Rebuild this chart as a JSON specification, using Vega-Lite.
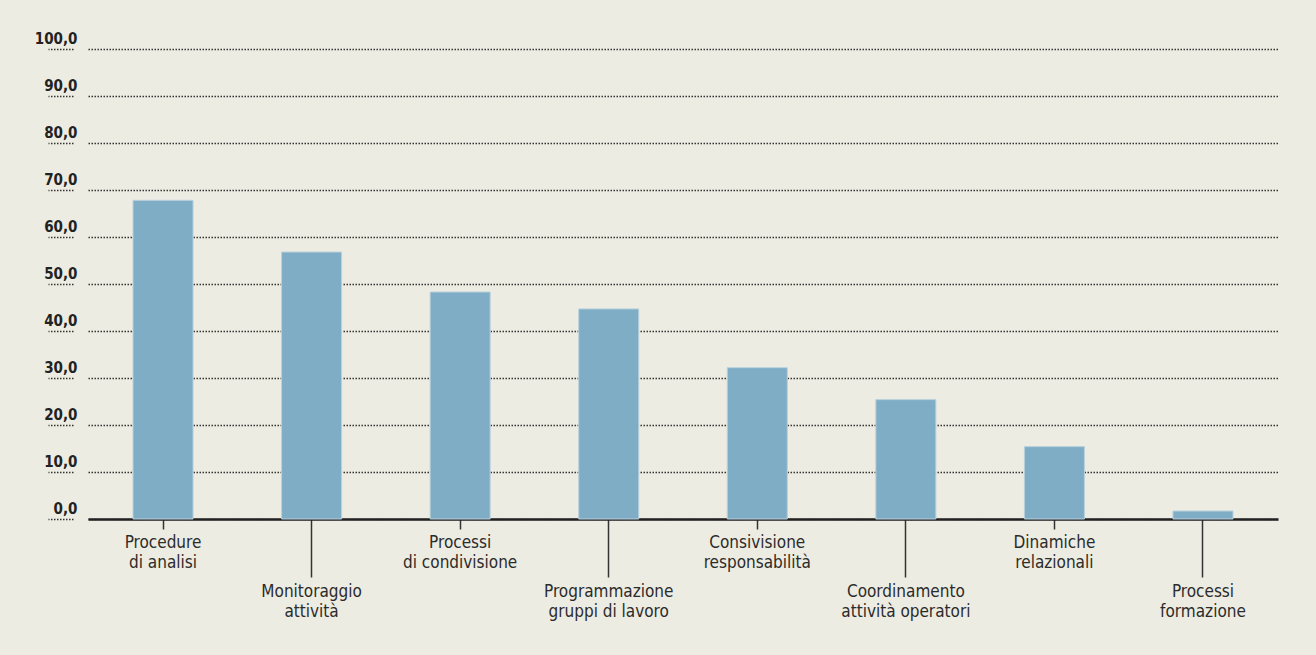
{
  "$schema": "https://vega.github.io/schema/vega-lite/v6.json",
  "autosize": "none",
  "padding": {"left": 88, "top": 49, "right": 38, "bottom": 136},
  "width": 1190,
  "height": 470,
  "background": "#EDECE2",
  "config": {
    "view": {"stroke": null},
    "font": "DejaVu Sans Condensed, Liberation Sans Narrow, Liberation Sans, sans-serif"
  },
  "data": {
    "values": [
      {"voce": "Procedure\ndi analisi", "valore": 67.8},
      {"voce": "Monitoraggio\nattività", "valore": 56.8},
      {"voce": "Processi\ndi condivisione", "valore": 48.3},
      {"voce": "Programmazione\ngruppi di lavoro", "valore": 44.7},
      {"voce": "Consivisione\nresponsabilità", "valore": 32.2},
      {"voce": "Coordinamento\nattività operatori", "valore": 25.4},
      {"voce": "Dinamiche\nrelazionali", "valore": 15.4},
      {"voce": "Processi\nformazione", "valore": 1.7}
    ]
  },
  "mark": {"type": "bar", "color": "#7FADC6", "stroke": "#B9D1DD", "strokeWidth": 1},
  "encoding": {
    "x": {
      "field": "voce",
      "type": "nominal",
      "sort": null,
      "title": null,
      "scale": {"paddingInner": 0.596, "paddingOuter": 0.303},
      "axis": {
        "labelAngle": 0,
        "labelExpr": "split(datum.label, '\\n')",
        "labelFontSize": 17,
        "labelColor": "#2B2B2B",
        "labelLineHeight": 20,
        "labelBaseline": "top",
        "labelAlign": "center",
        "labelLimit": 0,
        "labelOverlap": false,
        "domainColor": "#222222",
        "domainWidth": 2.5,
        "tickColor": "#333333",
        "tickWidth": 1.5,
        "tickSize": {"condition": {"test": "round(datum.index * 7) % 2 == 1", "value": 58}, "value": 10},
        "labelPadding": {"condition": {"test": "round(datum.index * 7) % 2 == 1", "value": 6}, "value": 5}
      }
    },
    "y": {
      "field": "valore",
      "type": "quantitative",
      "title": null,
      "scale": {"domain": [0, 100], "nice": false},
      "axis": {
        "values": [0, 10, 20, 30, 40, 50, 60, 70, 80, 90, 100],
        "labelExpr": "replace(format(datum.value, '.1f'), '.', ',')",
        "domain": false,
        "offset": 15,
        "tickSize": 25,
        "tickColor": "#333333",
        "tickWidth": 1.5,
        "tickDash": [1.5, 1.5],
        "labelPadding": -29,
        "labelAlign": "right",
        "labelBaseline": "alphabetic",
        "labelOffset": -6,
        "labelFontSize": 15,
        "labelFontWeight": "bold",
        "labelColor": "#222222",
        "grid": true,
        "gridColor": "#333333",
        "gridWidth": 1.5,
        "gridDash": [1.5, 1.5]
      }
    }
  }
}
